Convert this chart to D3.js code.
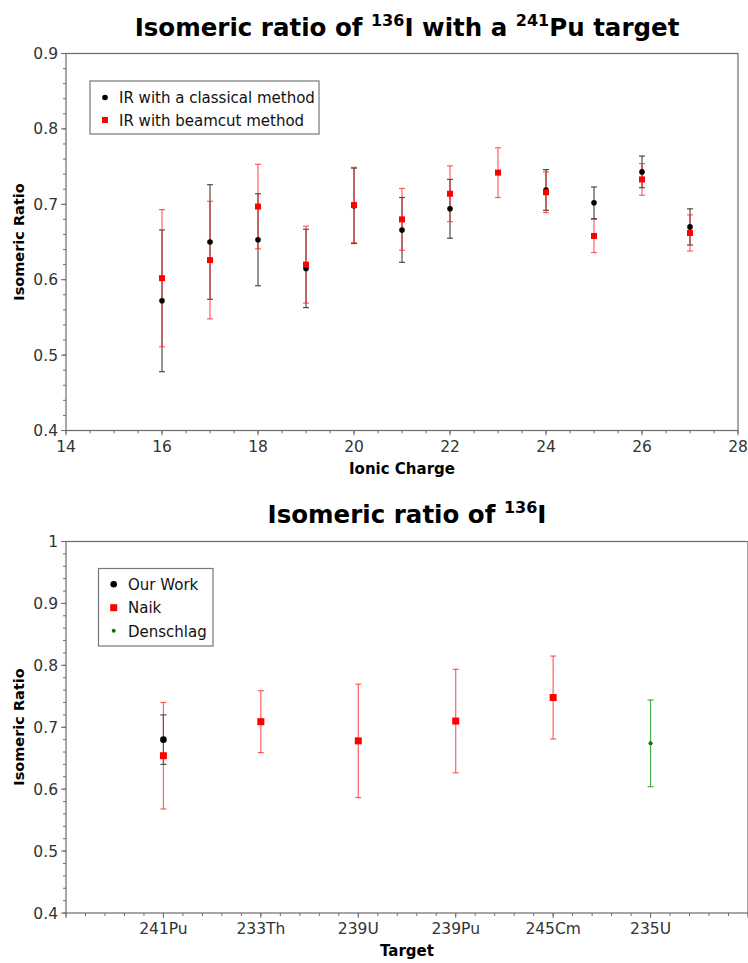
<!DOCTYPE html>
<html>
<head>
<meta charset="utf-8">
<script src="https://cdn.jsdelivr.net/npm/d3@7"></script>
<style>
  html, body { margin: 0; padding: 0; background: #fff; }
  svg { display: block; }
  text { font-family: "DejaVu Sans", sans-serif; }
</style>
</head>
<body>
<svg id="chart" width="748" height="963"></svg>
<script>
// ---------- Data: top chart ----------
const charges = [16, 17, 18, 19, 20, 21, 22, 23, 24, 25, 26, 27];
const classicalIR  = [0.572, 0.650, 0.653, 0.615, 0.698, 0.666, 0.694, null, 0.719, 0.702, 0.743, 0.670];
const classicalErr = [0.094, 0.076, 0.061, 0.052, 0.050, 0.043, 0.039, null, 0.027, 0.021, 0.021, 0.024];
const beamcutIR    = [0.602, 0.626, 0.697, 0.620, 0.699, 0.680, 0.714, 0.742, 0.716, 0.658, 0.733, 0.662];
const beamcutErr   = [0.091, 0.078, 0.056, 0.051, 0.050, 0.041, 0.037, 0.033, 0.027, 0.022, 0.021, 0.024];
const topXTicks = [14, 16, 18, 20, 22, 24, 26, 28];
const topYTicks = [0.4, 0.5, 0.6, 0.7, 0.8, 0.9];

// ---------- Data: bottom chart ----------
const targets = ["241Pu", "233Th", "239U", "239Pu", "245Cm", "235U"];
const ourWorkTargets = ["241Pu"];
const ourWorkIR  = [0.680];
const ourWorkErr = [0.040];
const naikTargets = ["241Pu", "233Th", "239U", "239Pu", "245Cm"];
const naikIR  = [0.654, 0.709, 0.678, 0.710, 0.748];
const naikErr = [0.086, 0.050, 0.0915, 0.0835, 0.067];
const denschlagTargets = ["235U"];
const denschlagIR  = [0.674];
const denschlagErr = [0.070];
const botYTicks = [0.4, 0.5, 0.6, 0.7, 0.8, 0.9, 1];

const svg = d3.select("#chart");
const AXIS = "#6b6b6b";
const LABEL = "#333";

function drawTitle(parts, cx, y) {
  const t = svg.append("text").attr("x", cx).attr("y", y)
    .attr("text-anchor", "middle").attr("font-weight", "bold")
    .attr("font-size", 24.5).attr("fill", "#000");
  let raised = false;
  parts.forEach(p => {
    if (p.sup) {
      t.append("tspan").attr("dy", -10).attr("font-size", 16).text(p.sup);
      raised = true;
    } else {
      const ts = t.append("tspan").text(p.t);
      if (raised) { ts.attr("dy", 10); raised = false; }
    }
  });
  return t;
}

function drawAxes(g, x, y, cfg) {
  const [x0, x1] = x.range();
  const [yb, yt] = y.range();
  const yMin = d3.range(cfg.yDomain[0], cfg.yDomain[1] + 1e-9, 0.02);
  g.selectAll(".ymin").data(yMin).join("line")
    .attr("x1", x0 - 3).attr("x2", x0)
    .attr("y1", d => y(d)).attr("y2", d => y(d))
    .attr("stroke", AXIS).attr("stroke-width", 1);
  g.selectAll(".ymaj").data(cfg.yTicks).join("line")
    .attr("x1", x0 - 5).attr("x2", x0)
    .attr("y1", d => y(d)).attr("y2", d => y(d))
    .attr("stroke", AXIS).attr("stroke-width", 1);
  g.selectAll(".ylab").data(cfg.yTicks).join("text")
    .attr("x", x0 - 8).attr("y", d => y(d) + 5.5)
    .attr("text-anchor", "end").attr("font-size", 15.5)
    .attr("fill", LABEL).text(d => d3.format("")(d));
  g.selectAll(".xmin").data(cfg.xMinor).join("line")
    .attr("x1", d => x(d)).attr("x2", d => x(d))
    .attr("y1", yb).attr("y2", yb + 3)
    .attr("stroke", AXIS).attr("stroke-width", 1);
  g.selectAll(".xmaj").data(cfg.xMajor).join("line")
    .attr("x1", d => x(d)).attr("x2", d => x(d))
    .attr("y1", yb).attr("y2", yb + 5)
    .attr("stroke", AXIS).attr("stroke-width", 1);
  g.selectAll(".xlab").data(cfg.xLabels).join("text")
    .attr("x", d => x(d.v)).attr("y", yb + 21)
    .attr("text-anchor", "middle").attr("font-size", 15.5)
    .attr("fill", LABEL).text(d => d.t);
  g.append("rect").attr("x", x0).attr("y", yt)
    .attr("width", x1 - x0).attr("height", yb - yt)
    .attr("fill", "none").attr("stroke", AXIS).attr("stroke-width", 1.2);
}

function errorBars(g, data, x, y, color, opacity) {
  const grp = g.append("g").attr("stroke", color).attr("stroke-opacity", opacity).attr("stroke-width", 1.2);
  data.forEach(d => {
    const xx = x(d.x);
    grp.append("line").attr("x1", xx).attr("x2", xx).attr("y1", y(d.v - d.e)).attr("y2", y(d.v + d.e));
    grp.append("line").attr("x1", xx - 3).attr("x2", xx + 3).attr("y1", y(d.v + d.e)).attr("y2", y(d.v + d.e));
    grp.append("line").attr("x1", xx - 3).attr("x2", xx + 3).attr("y1", y(d.v - d.e)).attr("y2", y(d.v - d.e));
  });
}

// ================= TOP CHART =================
{
  drawTitle([{t: "Isomeric ratio of "}, {sup: "136"}, {t: "I with a "}, {sup: "241"}, {t: "Pu target"}], 407, 36);
  const x = d3.scaleLinear().domain([14, 28]).range([66, 738]);
  const y = d3.scaleLinear().domain([0.4, 0.9]).range([430.5, 53.5]);
  const g = svg.append("g");
  drawAxes(g, x, y, {
    yDomain: [0.4, 0.9], yTicks: topYTicks,
    xMinor: d3.range(14, 28.001, 0.5), xMajor: topXTicks,
    xLabels: topXTicks.map(v => ({v, t: String(v)}))
  });
  const cls = charges.map((c, i) => ({x: c, v: classicalIR[i], e: classicalErr[i]})).filter(d => d.v !== null);
  const bc = charges.map((c, i) => ({x: c, v: beamcutIR[i], e: beamcutErr[i]}));
  errorBars(g, cls, x, y, "#222", 0.8);
  errorBars(g, bc, x, y, "#ff2020", 0.7);
  g.selectAll(".cdot").data(cls).join("circle")
    .attr("cx", d => x(d.x)).attr("cy", d => y(d.v)).attr("r", 2.8).attr("fill", "#000");
  g.selectAll(".bsq").data(bc).join("rect")
    .attr("x", d => x(d.x) - 3).attr("y", d => y(d.v) - 3)
    .attr("width", 6).attr("height", 6).attr("fill", "#ff0000");
  const lg = svg.append("g");
  lg.append("rect").attr("x", 90).attr("y", 81).attr("width", 229).attr("height", 53)
    .attr("fill", "#fff").attr("stroke", "#777").attr("stroke-width", 1.2);
  lg.append("circle").attr("cx", 105).attr("cy", 97.5).attr("r", 2.8).attr("fill", "#000");
  lg.append("rect").attr("x", 102).attr("y", 117).attr("width", 6).attr("height", 6).attr("fill", "#ff0000");
  lg.append("text").attr("x", 119).attr("y", 103).attr("font-size", 15).attr("fill", "#111").text("IR with a classical method");
  lg.append("text").attr("x", 119).attr("y", 126).attr("font-size", 15).attr("fill", "#111").text("IR with beamcut method");
  svg.append("text").attr("x", 402).attr("y", 474).attr("text-anchor", "middle")
    .attr("font-weight", "bold").attr("font-size", 15).text("Ionic Charge");
  svg.append("text").attr("transform", "translate(24,242) rotate(-90)").attr("text-anchor", "middle")
    .attr("font-weight", "bold").attr("font-size", 14.5).text("Isomeric Ratio");
}

// ================= BOTTOM CHART =================
{
  drawTitle([{t: "Isomeric ratio of "}, {sup: "136"}, {t: "I"}], 407, 523);
  const x = d3.scaleLinear().domain([0, 7]).range([66, 748]);
  const y = d3.scaleLinear().domain([0.4, 1]).range([913, 541.5]);
  const idx = t => targets.indexOf(t) + 1;
  const g = svg.append("g");
  drawAxes(g, x, y, {
    yDomain: [0.4, 1], yTicks: botYTicks,
    xMinor: d3.range(0, 7.001, 0.2), xMajor: d3.range(0, 8),
    xLabels: targets.map((t, i) => ({v: i + 1, t}))
  });
  const ow = ourWorkTargets.map((t, i) => ({x: idx(t), v: ourWorkIR[i], e: ourWorkErr[i]}));
  const nk = naikTargets.map((t, i) => ({x: idx(t), v: naikIR[i], e: naikErr[i]}));
  const dn = denschlagTargets.map((t, i) => ({x: idx(t), v: denschlagIR[i], e: denschlagErr[i]}));
  errorBars(g, ow, x, y, "#222", 0.8);
  errorBars(g, nk, x, y, "#ff2020", 0.7);
  errorBars(g, dn, x, y, "#1a9a1a", 0.8);
  g.selectAll(".ow").data(ow).join("circle")
    .attr("cx", d => x(d.x)).attr("cy", d => y(d.v)).attr("r", 3.3).attr("fill", "#000");
  g.selectAll(".nk").data(nk).join("rect")
    .attr("x", d => x(d.x) - 3.5).attr("y", d => y(d.v) - 3.5)
    .attr("width", 7).attr("height", 7).attr("fill", "#ff0000");
  g.selectAll(".dn").data(dn).join("circle")
    .attr("cx", d => x(d.x)).attr("cy", d => y(d.v)).attr("r", 2).attr("fill", "#007a00");
  const lg = svg.append("g");
  lg.append("rect").attr("x", 98.5).attr("y", 568.5).attr("width", 114.5).attr("height", 77.5)
    .attr("fill", "#fff").attr("stroke", "#777").attr("stroke-width", 1.2);
  lg.append("circle").attr("cx", 113.7).attr("cy", 584.3).attr("r", 3.3).attr("fill", "#000");
  lg.append("rect").attr("x", 110.2).attr("y", 604.2).attr("width", 7).attr("height", 7).attr("fill", "#ff0000");
  lg.append("circle").attr("cx", 113.7).attr("cy", 630.7).attr("r", 2).attr("fill", "#007a00");
  lg.append("text").attr("x", 128).attr("y", 590).attr("font-size", 15).attr("fill", "#111").text("Our Work");
  lg.append("text").attr("x", 128).attr("y", 613).attr("font-size", 15).attr("fill", "#111").text("Naik");
  lg.append("text").attr("x", 128).attr("y", 636.5).attr("font-size", 15).attr("fill", "#111").text("Denschlag");
  svg.append("text").attr("x", 407).attr("y", 956).attr("text-anchor", "middle")
    .attr("font-weight", "bold").attr("font-size", 15).text("Target");
  svg.append("text").attr("transform", "translate(24,727) rotate(-90)").attr("text-anchor", "middle")
    .attr("font-weight", "bold").attr("font-size", 14.5).text("Isomeric Ratio");
}
</script>
</body>
</html>
